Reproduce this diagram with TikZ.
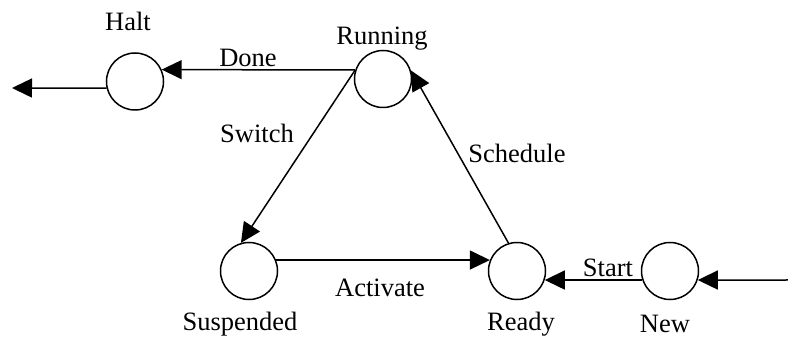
\documentclass[tikz,border=0pt]{standalone}
\usepackage{fontspec}
\setmainfont{Liberation Serif}
\usetikzlibrary{arrows.meta}
\begin{document}
\begin{tikzpicture}[x=1pt,y=-1pt,
  state/.style={draw,circle,line width=1.5pt,minimum size=57pt,inner sep=0pt},
  lbl/.style={inner sep=0pt,font=\fontsize{26.5}{31}\selectfont},
  conn/.style={line width=1.5pt,-{Triangle[length=20pt,width=19pt]}}]
\useasboundingbox (0,0) rectangle (788,339);
\node[state] (halt) at (135,81.5) {};
\node[state] (running) at (383,79) {};
\node[state] (suspended) at (249,271) {};
\node[state] (ready) at (517,271) {};
\node[state] (new) at (670,271) {};
\coordinate (outp) at (12,88);
\coordinate (inp) at (788,280);
\node[lbl] (lhalt) at (128,21) {Halt};
\node[lbl] (lrunning) at (382,39) {Running};
\node[lbl] (lsuspended) at (240,324) {Suspended};
\node[lbl] (lready) at (521,324) {Ready};
\node[lbl] (lnew) at (665,324) {New};
\node[lbl] (ldone) at (248,58) {Done};
\node[lbl] (lswitch) at (257,133) {Switch};
\node[lbl] (lschedule) at (517,153) {Schedule};
\node[lbl] (lactivate) at (380,288) {Activate};
\node[lbl] (lstart) at (608,268) {Start};
\draw[conn] (running.162) -- (halt.24);
\draw[conn] (running.162) -- (suspended.106);
\draw[conn] (suspended.22) -- (ready.158);
\draw[conn] (ready.107) -- (running.17);
\draw[conn] (new.198) -- (ready.-18);
\draw[conn] (inp) -- (new.-18);
\draw[conn] (halt.193) -- (outp);
\end{tikzpicture}
\end{document}
